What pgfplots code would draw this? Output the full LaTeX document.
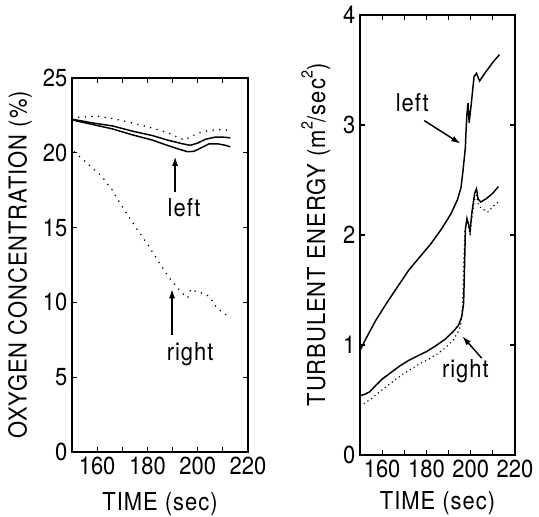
\documentclass[border=0pt]{standalone}
\usepackage{fontspec}
\setmainfont{TeX Gyre Heros}[FakeStretch=0.89]
\newfontfamily\labelfamily{TeX Gyre Heros}[FakeStretch=0.89, LetterSpace=4]
\usepackage{pgfplots}
\pgfplotsset{compat=1.18}
\usetikzlibrary{arrows.meta}

\newcommand{\bigfont}{\fontsize{18.5}{20}\selectfont}
\newcommand{\labfont}{\labelfamily\fontsize{18.5}{20}\selectfont}
\newcommand{\sq}{\raisebox{0.5em}{\fontsize{12}{12}\selectfont 2}}
\pgfplotsset{
  panel/.style={
    scale only axis, xmin=150, xmax=220,
    xtick={160,180,200,220}, minor xtick={170,190,210},
    axis line style={line width=1.1pt},
    tick align=inside, major tick length=3.5pt, minor tick length=3.5pt,
    every tick/.style={black, line width=0.9pt},
    tick label style={font=\bigfont},
    /pgf/number format/assume math mode=true,
    anchor=south west,
  },
}
\tikzset{
  solidline/.style={black, line width=1.1pt},
  dotline/.style={black, line width=1.3pt, line cap=round, dash pattern=on 0pt off 5pt},
  dotlinefine/.style={black, line width=1.2pt, line cap=round, dash pattern=on 0pt off 3.3pt},
  note/.style={-{Latex[length=7pt,width=4.5pt]}, line width=1.1pt},
}

\begin{document}
\begin{tikzpicture}[x=1pt,y=1pt]
\path[use as bounding box] (0,0) rectangle (404.25,387.75);

% oxygen concentration
\begin{axis}[panel, at={(54pt,48.75pt)}, width=132pt, height=280.5pt,
  ymin=0, ymax=25, ytick={0,5,...,25},
  xlabel={TIME (sec)}, ylabel={OXYGEN CONCENTRATION (\%)},
  every axis x label/.style={at={(axis description cs:0.5,-0.14)}, anchor=center, font=\labfont},
  every axis y label/.style={at={(axis description cs:-0.295,0.5)}, rotate=90, anchor=center, font=\labfont}]
  % left, two solid lines and a dotted one
  \addplot[solidline] coordinates {(150,22.25) (158,22.0) (166,21.8) (174,21.45) (182,21.15) (188,20.85) (194,20.6) (197,20.5) (200,20.65) (203,20.9) (207,21.05) (210,21.05) (213,21.0)};
  \addplot[solidline] coordinates {(150,22.2) (158,21.9) (166,21.6) (174,21.2) (182,20.85) (187,20.55) (191.5,20.3) (196,20.07) (198.5,20.1) (201,20.3) (204.5,20.6) (208,20.6) (211,20.5) (213,20.4)};
  \addplot[dotline] coordinates {(150,22.35) (155,22.4) (160,22.45) (166,22.3) (175,21.95) (182,21.65) (188.7,21.3) (194.7,20.85) (198,21.15) (201,21.35) (204.7,21.5) (209,21.55) (213,21.5)};
  % right
  \addplot[dotline] coordinates {(151,20.05) (156,19.3) (162,18.4) (166,17.5) (170,16.4) (175,15.1) (180,13.9) (184.7,12.65) (188,11.8) (191.3,11.1) (194,10.6) (196,10.3) (197.3,10.9) (199,10.75) (200.7,10.66) (203.3,10.55) (205,10.3) (207.3,9.7) (210,9.3) (213,9.0)};
  \draw[note] (axis cs:191,17.4) -- (axis cs:191,19.75);
  \node[font=\labfont] at (axis cs:194.6,16.3) {left};
  \draw[note] (axis cs:189.8,7.8) -- (axis cs:189.8,10.9);
  \node[font=\labfont] at (axis cs:197,6.55) {right};
\end{axis}

% turbulent energy
\begin{axis}[panel, at={(270pt,46.5pt)}, width=116.25pt, height=330pt,
  ymin=0, ymax=4, ytick={0,1,2,3,4},
  xlabel={TIME (sec)}, ylabel={TURBULENT ENERGY (m\sq/sec\sq)},
  every axis x label/.style={at={(axis description cs:0.5,-0.11)}, anchor=center, font=\labfont},
  every axis y label/.style={at={(axis description cs:-0.285,0.5)}, rotate=90, anchor=center, font=\labfont}]
  % left
  \addplot[solidline] coordinates {(150,0.95) (153,1.07) (157,1.22) (162,1.38) (167,1.53) (172,1.68) (177,1.8) (182,1.92) (187,2.06) (191,2.19) (194,2.32) (195.6,2.43) (196.5,2.58) (197.2,2.72) (197.6,2.8) (197.9,2.95) (198.3,3.1) (198.8,3.2) (199.3,3.02) (200.3,3.2) (201.5,3.44) (202.6,3.47) (204,3.40) (206,3.46) (210,3.57) (213,3.64)};
  % right, solid and dotted
  \addplot[solidline] coordinates {(150,0.54) (152,0.55) (154.4,0.575) (157,0.63) (160,0.69) (164,0.75) (168,0.81) (172,0.86) (176,0.9) (180,0.94) (184,0.99) (188.3,1.05) (192,1.12) (194.5,1.18) (196,1.26) (196.8,1.38) (197.2,1.70) (197.6,2.05) (198.3,2.15) (199,2.10) (199.7,2.03) (200.5,2.2) (201.8,2.38) (202.6,2.42) (203.3,2.33) (204.5,2.30) (207,2.33) (210,2.38) (212.5,2.44)};
  \addplot[dotlinefine] coordinates {(150,0.46) (152,0.47) (155,0.51) (158,0.56) (161,0.61) (165,0.67) (169,0.73) (173,0.78) (177,0.83) (181,0.87) (185,0.92) (188.3,0.97) (192,1.04) (194.3,1.12) (195.5,1.18) (196.4,1.38) (196.9,1.75) (197.4,2.05) (198.2,2.13) (199,2.08) (199.7,2.0) (200.5,2.15) (201.8,2.33) (202.6,2.36) (203.5,2.27) (205,2.24) (207.8,2.21) (210,2.26) (212.5,2.30)};
  \draw[note] (axis cs:179,3.04) -- (axis cs:195.4,2.83);
  \node[font=\labfont] at (axis cs:173.6,3.2) {left};
  \draw[note] (axis cs:205,0.88) -- (axis cs:196.2,1.08);
  \node[font=\labfont] at (axis cs:197.6,0.76) {right};
\end{axis}
\end{tikzpicture}
\end{document}
